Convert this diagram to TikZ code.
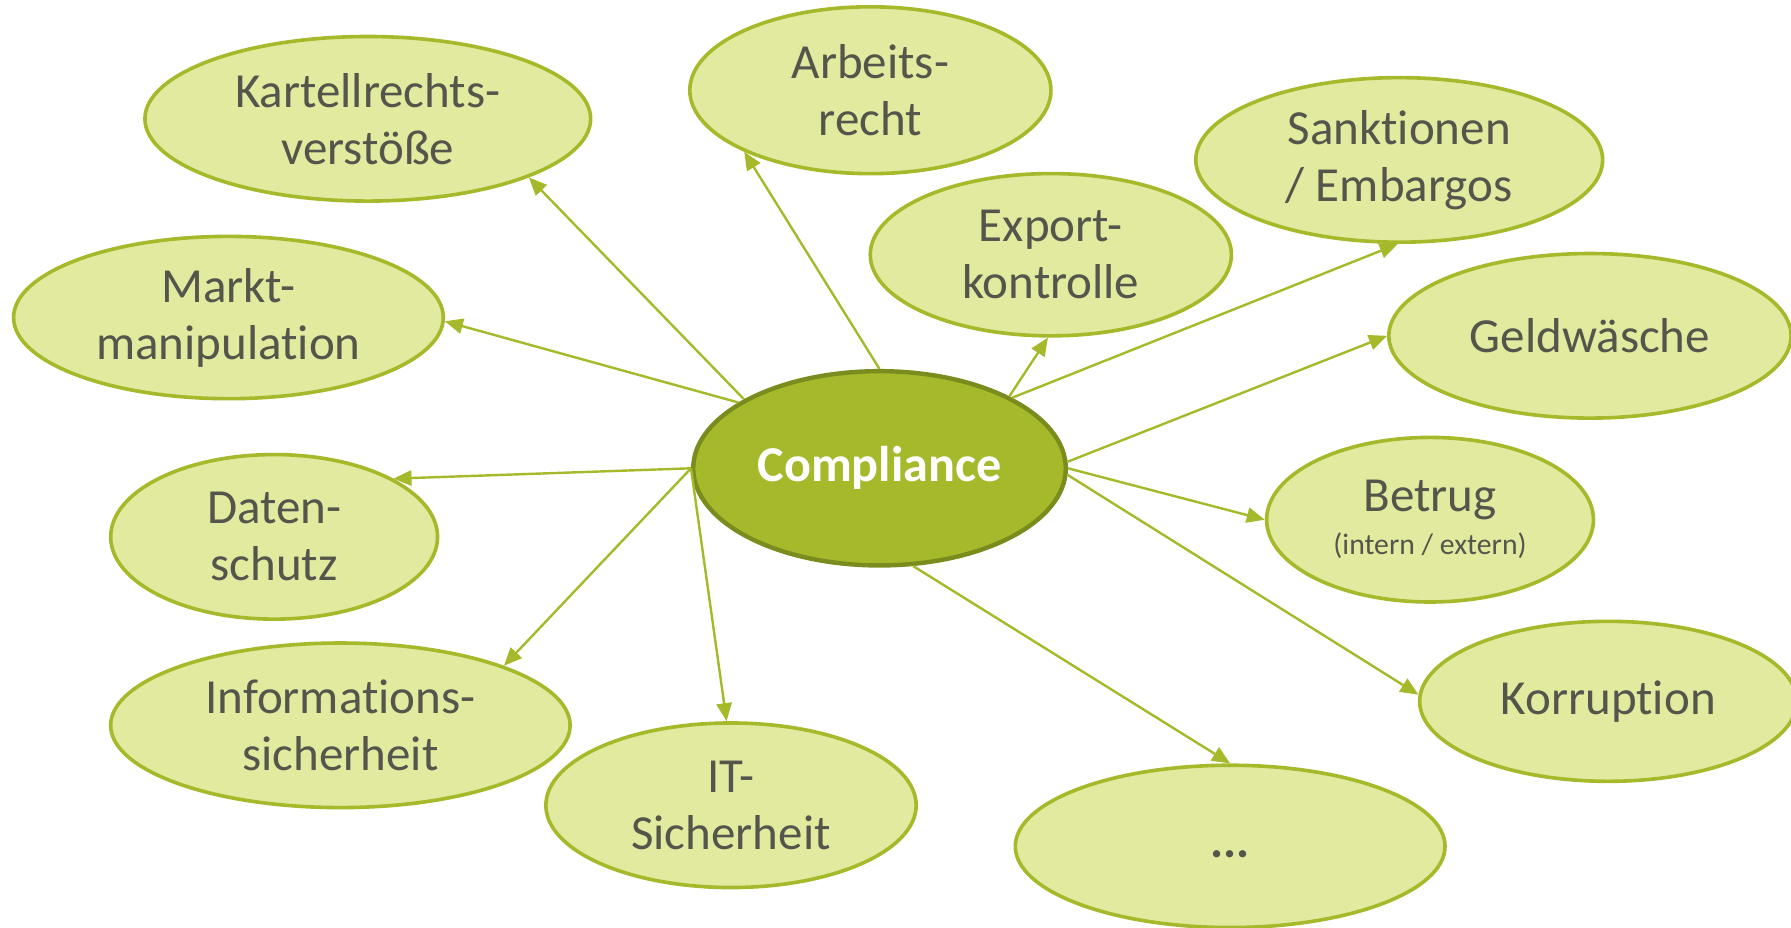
\documentclass[tikz,border=0pt]{standalone}
\usepackage{fontspec}
\setmainfont{Carlito}[Ligatures={NoCommon,NoRare}]
\usepackage{tikz}
\usetikzlibrary{shapes.geometric, arrows.meta}
\definecolor{leaf}{RGB}{226,234,160}
\definecolor{stem}{RGB}{166,185,42}
\definecolor{bark}{RGB}{122,140,30}
\definecolor{ink}{RGB}{85,85,75}

\begin{document}
\begin{tikzpicture}[x=0.01cm,y=-0.01cm,
		topic/.style={ellipse,draw=stem,line width=0.9pt,fill=leaf,text=ink,inner sep=0pt,align=center,font=\fontsize{12.2}{14.2}\selectfont},
		core/.style={ellipse,draw=bark,line width=1.1pt,fill=stem,text=white,inner sep=0pt,font=\fontsize{12.5}{15}\selectfont\bfseries},
		link/.style={draw=stem,line width=0.6pt,-{Triangle[length=4.5pt,width=3.8pt]}}]
			\useasboundingbox (0,0) rectangle (1568,812);
			% centre
			\node[core,minimum width=3.26cm,minimum height=1.7cm] (comp) at (770,410) {Compliance};
			% topics, upper half
			\node[topic,minimum width=3.9cm,minimum height=1.44cm] (kartell) at (322,104) {Kartellrechts-\\verstöße};
			\node[topic,minimum width=3.16cm,minimum height=1.46cm] (arbeit) at (762,79) {Arbeits-\\recht};
			\node[topic,minimum width=3.56cm,minimum height=1.44cm] (sankt) at (1225,140) {Sanktionen\\/ Embargos};
			\node[topic,minimum width=3.16cm,minimum height=1.42cm] (export) at (920,223) {Export-\\kontrolle};
			\node[topic,minimum width=3.76cm,minimum height=1.42cm] (markt) at (200,278) {Markt-\\manipulation};
			\node[topic,minimum width=3.52cm,minimum height=1.44cm] (geld) at (1392,294) {Geldwäsche};
			% topics, lower half
			\node[topic,minimum width=2.86cm,minimum height=1.44cm] (daten) at (240,470) {Daten-\\schutz};
			\node[topic,minimum width=2.86cm,minimum height=1.44cm] (betrug) at (1252,455) {Betrug\\[-3.5pt]{\fontsize{7.4}{8.5}\selectfont(intern / extern)}};
			\node[topic,minimum width=4.02cm,minimum height=1.44cm] (info) at (298,635) {Informations-\\sicherheit};
			\node[topic,minimum width=3.24cm,minimum height=1.44cm] (it) at (640,705) {IT-\\Sicherheit};
			\node[topic,minimum width=3.3cm,minimum height=1.4cm] (korr) at (1408,614) {Korruption};
			\node[topic,minimum width=3.76cm,minimum height=1.42cm] (dots) at (1077,741) {\vphantom{Ag}\textbf{...}};
			% arrows out of the centre
			\draw[link] (comp.153) -- (kartell.-20);
			\draw[link] (comp.90) -- (arbeit.-154);
			\draw[link] (comp.29) -- (export.-92);
			\draw[link] (comp.28) -- (sankt.-91);
			\draw[link] (comp.155) -- (markt.-1);
			\draw[link] (comp.2) -- (geld.west);
			\draw[link] (comp.east) -- (betrug.west);
			\draw[link] (comp.-2) -- (korr.178);
			\draw[link] (comp.-71) -- (dots.north);
			\draw[link] (comp.west) -- (it.93);
			\draw[link] (comp.west) -- (info.20);
			\draw[link] (comp.west) -- (daten.26);
\end{tikzpicture}
\end{document}
